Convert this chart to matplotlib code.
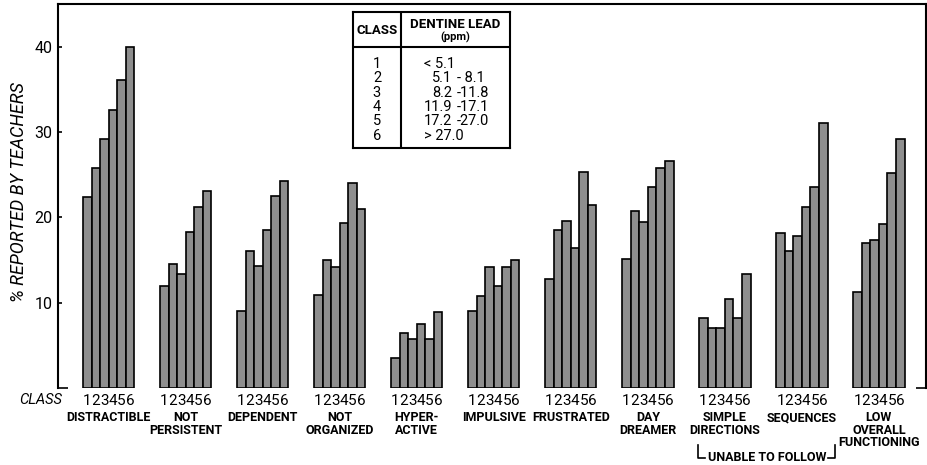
import matplotlib
matplotlib.use("Agg")
import matplotlib.pyplot as plt
from matplotlib.ticker import FixedLocator
import numpy as np

categories = ["DISTRACTIBLE", "NOT\nPERSISTENT", "DEPENDENT", "NOT\nORGANIZED",
              "HYPER-\nACTIVE", "IMPULSIVE", "FRUSTRATED", "DAY\nDREAMER",
              "SIMPLE\nDIRECTIONS", "SEQUENCES", "LOW\nOVERALL\nFUNCTIONING"]
class_labels = ["1", "2", "3", "4", "5", "6"]

distractible = [22.4, 25.8, 29.2, 32.6, 36.1, 40.0]
not_persistent = [12.0, 14.5, 13.4, 18.3, 21.2, 23.1]
dependent = [9.0, 16.0, 14.3, 18.5, 22.5, 24.3]
not_organized = [10.9, 15.0, 14.2, 19.3, 24.0, 21.0]
hyperactive = [3.5, 6.5, 5.8, 7.5, 5.8, 8.9]
impulsive = [9.0, 10.8, 14.2, 12.0, 14.2, 15.0]
frustrated = [12.8, 18.5, 19.6, 16.4, 25.3, 21.5]
day_dreamer = [15.1, 20.8, 19.4, 23.6, 25.8, 26.6]
simple_directions = [8.2, 7.0, 7.0, 10.4, 8.2, 13.4]
sequences = [18.2, 16.0, 17.8, 21.2, 23.5, 31.0]
low_overall = [11.2, 17.0, 17.4, 19.2, 25.2, 29.2]

series = [distractible, not_persistent, dependent, not_organized, hyperactive,
          impulsive, frustrated, day_dreamer, simple_directions, sequences, low_overall]

table_classes = ["1", "2", "3", "4", "5", "6"]
table_low = ["< 5.1", "5.1", "8.2", "11.9", "17.2", "> 27.0"]
table_high = ["", "- 8.1", "-11.8", "-17.1", "-27.0", ""]

FONT = ["Roboto", "DejaVu Sans"]
plt.rcParams["font.family"] = FONT

fig = plt.figure(figsize=(9.28, 4.65), dpi=100)
ax = fig.add_axes([58/928, 1-388/465, (926-58)/928, (388-4)/465])

group_step = 9
xticks = []
xticklabels = []
for k, vals in enumerate(series):
    x = k*group_step + np.arange(len(vals))
    ax.bar(x, vals, width=1.0, color="#8e8e8e", edgecolor="black", linewidth=1.2, zorder=2)
    xticks.extend(x)
    xticklabels.extend(class_labels)
    ax.text(k*group_step + 2.5, -2.7, categories[k], ha="center", va="top",
            fontsize=9, fontweight="bold", linespacing=0.95, clip_on=False)

ax.set_xlim(-3.42, 98.0)
ax.set_ylim(0, 45)
ax.set_xticks(xticks)
ax.set_xticklabels(xticklabels, fontsize=11)
ax.tick_params(axis="x", length=0, pad=4)

ax.set_yticks([10, 20, 30, 40])
ax.set_yticklabels(["10", "20", "30", "40"], fontsize=11.5)
ax.tick_params(axis="y", which="major", direction="in", length=3, width=1.2, left=True, right=False, pad=4)
ax.yaxis.set_minor_locator(FixedLocator([0]))
ax.tick_params(axis="y", which="minor", direction="in", length=7, width=1.2, left=True, right=True)

for side in ["left", "top", "right"]:
    ax.spines[side].set_linewidth(1.5)
ax.spines["bottom"].set_visible(False)

ax.set_ylabel("% REPORTED BY TEACHERS", fontsize=13, fontstyle="italic")
ax.yaxis.set_label_coords(-0.035, 0.51)

ax.text(-2.9, -1.45, "CLASS", ha="right", va="center", fontsize=10.5,
        fontstyle="italic", clip_on=False)

# bracket "UNABLE TO FOLLOW"
bx0 = 8*group_step - 0.6
bx1 = 9*group_step + 6.4
yb = -8.15
ax.plot([bx0, bx0, bx0 + 0.8], [-6.7, yb, yb], color="black", lw=1.2, clip_on=False)
ax.plot([bx1 - 0.8, bx1, bx1], [yb, yb, -6.7], color="black", lw=1.2, clip_on=False)
ax.text((bx0 + bx1)/2, yb, "UNABLE TO FOLLOW", ha="center", va="center",
        fontsize=9, fontweight="bold", clip_on=False)

# table
tax = fig.add_axes([353/928, 1-148/465, (510-353)/928, (148-12)/465])
tax.set_xlim(0, 157)
tax.set_ylim(136, 0)
tax.set_xticks([])
tax.set_yticks([])
for s in tax.spines.values():
    s.set_linewidth(1.5)
tax.axvline(48, color="black", lw=1.5)
tax.axhline(35, color="black", lw=1.5)
tax.text(24, 18, "CLASS", ha="center", va="center", fontsize=9.5, fontweight="bold")
tax.text(102, 12, "DENTINE LEAD", ha="center", va="center", fontsize=9.5, fontweight="bold")
tax.text(102, 25, "(ppm)", ha="center", va="center", fontsize=8, fontweight="bold")
for i in range(6):
    yy = 52 + i*14.3
    tax.text(24, yy, table_classes[i], ha="center", va="center", fontsize=10.5)
    if table_high[i]:
        tax.text(99, yy, table_low[i], ha="right", va="center", fontsize=10.5)
        tax.text(104, yy, table_high[i], ha="left", va="center", fontsize=10.5)
    else:
        tax.text(71, yy, table_low[i], ha="left", va="center", fontsize=10.5)

fig.savefig("out.png", dpi=100)
